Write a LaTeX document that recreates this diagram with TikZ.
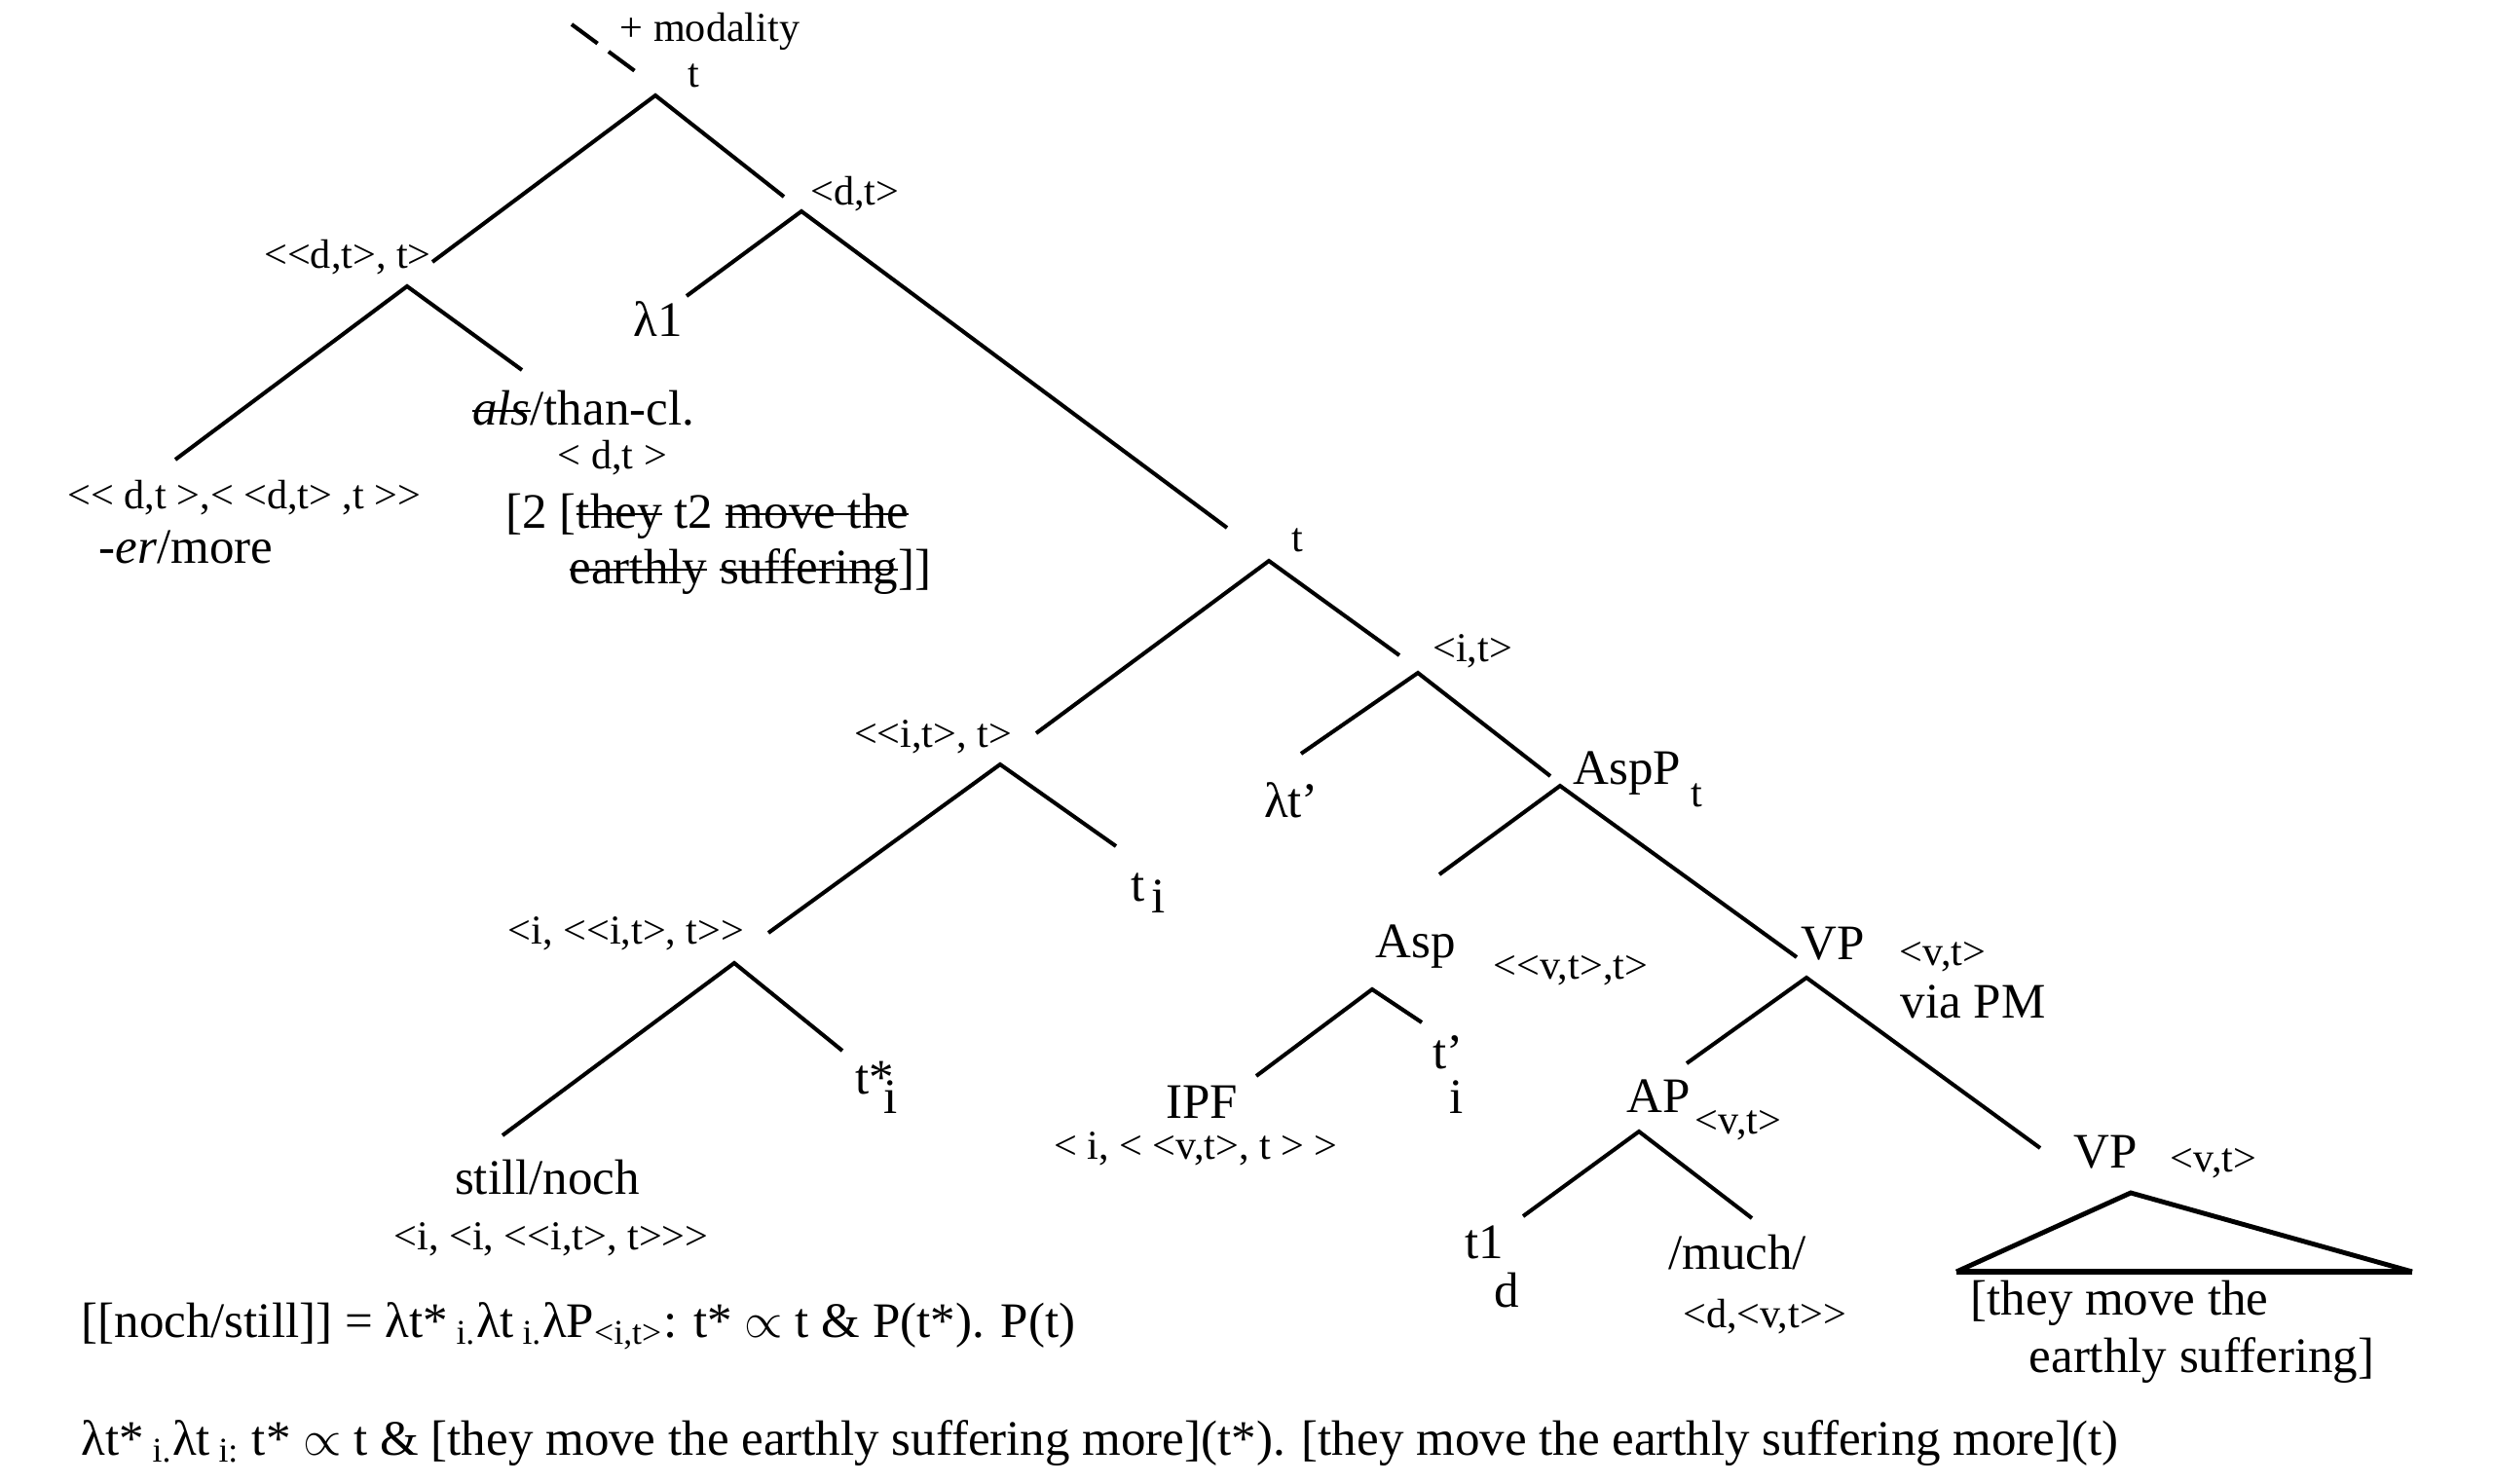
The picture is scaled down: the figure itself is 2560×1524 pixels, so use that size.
\documentclass[tikz,border=0pt]{standalone}
\usepackage{fontspec}
\setmainfont{Liberation Serif}[Ligatures=TeXOff]
\newsavebox{\strikebox}
\newcommand{\strike}[1]{\sbox{\strikebox}{#1}\rlap{\raisebox{0.25em}{\rule{\wd\strikebox}{0.7pt}}}\usebox{\strikebox}}

\begin{document}
\begin{tikzpicture}[x=0.01cm,y=-0.01cm,
		branch/.style={line width=1.15pt},
		typ/.style={inner sep=0pt,anchor=base,font=\fontsize{12}{14}\selectfont},
		word/.style={inner sep=0pt,anchor=base,font=\fontsize{14.5}{17}\selectfont}]
				\useasboundingbox (0,0) rectangle (2560,1524);
				
				\coordinate (mod1) at (587,25);
				\coordinate (mod2) at (652,73);
				\coordinate (root) at (673,98);
				\coordinate (rootL) at (444,269);
				\coordinate (rootR) at (805,202);
				\coordinate (dtt) at (418,294);
				\coordinate (dttL) at (180,472);
				\coordinate (dttR) at (536,380);
				\coordinate (lam) at (823,217);
				\coordinate (lamL) at (705,304);
				\coordinate (lamR) at (1260,542);
				\coordinate (tt) at (1303,576);
				\coordinate (ttL) at (1064,753);
				\coordinate (ttR) at (1437,673);
				\coordinate (itt) at (1027,785);
				\coordinate (ittL) at (789,958);
				\coordinate (ittR) at (1146,869);
				\coordinate (it) at (1456,691);
				\coordinate (itL) at (1336,774);
				\coordinate (itR) at (1592,797);
				\coordinate (asp) at (1602,807);
				\coordinate (aspL) at (1478,898);
				\coordinate (aspR) at (1845,983);
				\coordinate (still) at (754,989);
				\coordinate (stillL) at (516,1166);
				\coordinate (stillR) at (865,1079);
				\coordinate (ipf) at (1409,1016);
				\coordinate (ipfL) at (1290,1105);
				\coordinate (ipfR) at (1460,1050);
				\coordinate (vp) at (1855,1004);
				\coordinate (vpL) at (1732,1092);
				\coordinate (vpR) at (2095,1179);
				\coordinate (ap) at (1683,1162);
				\coordinate (apL) at (1564,1249);
				\coordinate (apR) at (1799,1251);
				\coordinate (tri) at (2188,1225);
				\coordinate (triL) at (2009,1306);
				\coordinate (triR) at (2477,1306);
				
				\draw[branch,dash pattern=on 9.4pt off 4pt] (mod1) -- (mod2);
				\draw[branch] (rootL) -- (root) -- (rootR);
				\draw[branch] (dttL) -- (dtt) -- (dttR);
				\draw[branch] (lamL) -- (lam) -- (lamR);
				\draw[branch] (ttL) -- (tt) -- (ttR);
				\draw[branch] (ittL) -- (itt) -- (ittR);
				\draw[branch] (itL) -- (it) -- (itR);
				\draw[branch] (aspL) -- (asp) -- (aspR);
				\draw[branch] (stillL) -- (still) -- (stillR);
				\draw[branch] (ipfL) -- (ipf) -- (ipfR);
				\draw[branch] (vpL) -- (vp) -- (vpR);
				\draw[branch] (apL) -- (ap) -- (apR);
				\draw[line width=1.4pt] (triL) -- (tri) -- (triR);
				\draw[line width=1.7pt] (triL) -- (triR);
				
				\node[typ] (modal) at (729,42) {+ modality};
				\node[typ] (roott) at (712,90) {t};
				\node[typ] (dtttype) at (357,275) {<<d,t>, t>};
				\node[typ] (lamtype) at (878,210) {<d,t>};
				\node[word] (lam1) at (676,345) {λ1};
				\node[word] (than) at (599,436) {\strike{\textit{als}}/than-cl.};
				\node[typ] (thantype) at (629,481) {< d,t >};
				\node[word,anchor=base west] (thancl1) at (519,542) {[2 [\strike{they} t2 \strike{move the}};
				\node[word,anchor=base west] (thancl2) at (584,599) {\strike{earthly} \strike{suffering}]]};
				\node[typ] (ertype) at (251,522) {<< d,t >,< <d,t> ,t >>};
				\node[word] (er) at (191,578) {-\textit{er}/more};
				
				\node[typ] (ttt) at (1332,566) {t};
				\node[typ] (itttype) at (958,767) {<<i,t>, t>};
				\node[typ] (ittype) at (1512,679) {<i,t>};
				\node[word] (lamt) at (1326,839) {λt’};
				\node[word] (ti) at (1169,925) {t};
				\node[word] (tisub) at (1190,937) {i};
				\node[word,anchor=base west] (aspp) at (1615,805) {AspP};
				\node[typ] (aspptype) at (1742,828) {t};
				
				\node[typ] (stilltype) at (643,969) {<i, <<i,t>, t>>};
				\node[word,anchor=base west] (tstar) at (878,1123) {t*\llap{\raisebox{-0.2cm}{i}\kern-0.03cm}};
				\node[word] (asphead) at (1454,983) {Asp};
				\node[typ] (asptype) at (1613,1005) {<<v,t>,t>};
				\node[word] (vp1) at (1882,985) {VP};
				\node[typ] (vp1type) at (1995,991) {<v,t>};
				\node[word] (viapm) at (2026,1045) {via PM};
				\node[word] (tprime) at (1487,1097) {t’};
				\node[word] (tprimesub) at (1496,1143) {i};
				\node[word] (ipfw) at (1234,1148) {IPF};
				\node[typ] (ipftype) at (1228,1190) {< i, < <v,t>, t > >};
				\node[word] (apw) at (1703,1142) {AP};
				\node[typ] (aptype) at (1785,1164) {<v,t>};
				\node[word] (vp2) at (2162,1199) {VP};
				\node[typ] (vp2type) at (2273,1203) {<v,t>};
				\node[word] (t1) at (1524,1292) {t1};
				\node[word] (t1sub) at (1547,1342) {d};
				\node[word] (much) at (1784,1303) {/much/};
				\node[typ] (muchtype) at (1812,1363) {<d,<v,t>>};
				\node[word,anchor=base west] (vpcl1) at (2023,1350) {[they move the};
				\node[word,anchor=base west] (vpcl2) at (2083,1409) {earthly suffering]};
				\node[word] (stillw) at (562,1226) {still/noch};
				\node[typ] (stillwtype) at (566,1283) {<i, <i, <<i,t>, t>>>};
				
				\node[word,anchor=base west] (nochdef) at (83,1373) {[[noch/still]] = λt*\,\textsubscript{i.}λt\,\textsubscript{i.}λP\textsubscript{<i,t>}: t* $\propto$ t \& P(t*). P(t)};
				\node[word,anchor=base west] (nochapp) at (83,1494) {λt*\,\textsubscript{i.}λt\,\textsubscript{i:} t* $\propto$ t \& [they move the earthly suffering more](t*). [they move the earthly suffering more](t)};
			\end{tikzpicture}
\end{document}
